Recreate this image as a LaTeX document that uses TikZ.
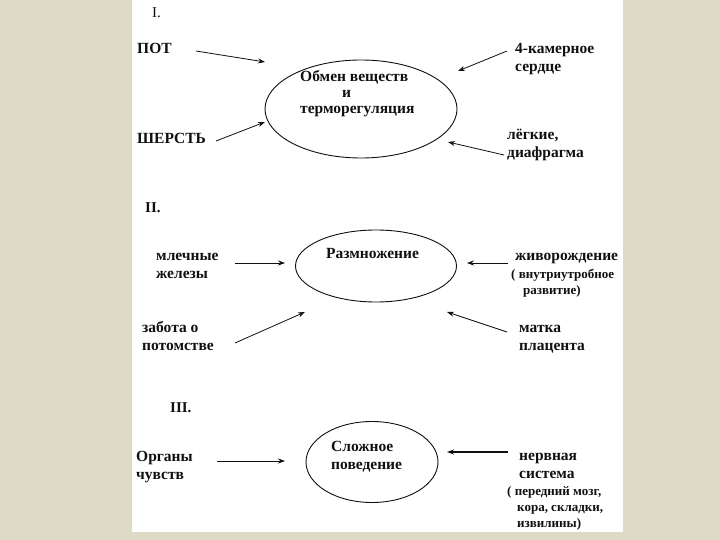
\documentclass[tikz,border=0pt]{standalone}
\usepackage{fontspec}
\setmainfont{Liberation Serif}
\usetikzlibrary{arrows.meta,shapes.geometric}
\definecolor{bioBack}{HTML}{DDDAC6}
\definecolor{bioInk}{HTML}{101010}
\tikzset{
  bio ring/.style={draw=bioInk, ellipse, line width=0.9pt, inner sep=0pt},
  bio label/.style={font=\fontsize{15.5}{18}\selectfont\bfseries, text=bioInk, align=left, anchor=north west, inner sep=0pt},
  bio note/.style={font=\fontsize{13}{16}\selectfont\bfseries, text=bioInk, align=left, anchor=north west, inner sep=0pt},
  bio numeral/.style={font=\fontsize{15}{18}\selectfont, text=bioInk, anchor=north west, inner sep=0pt},
  bio arrow/.style={draw=bioInk, -{Stealth[length=7pt,width=5pt]}, line width=0.8pt},
}

\begin{document}
\begin{tikzpicture}[x=1pt,y=-1pt]
  \fill[bioBack] (0,0) rectangle (720,540);
  \fill[white] (132,0) rectangle (623,532);

  % I. metabolism
  \node[bio numeral] (numI) at (152,7) {I.};
  \node[bio ring, minimum width=192pt, minimum height=98pt] (metab) at (361,109) {};
  \node[bio label] (metabTop) at (300,70) {Обмен веществ};
  \node[bio label] (metabAnd) at (342,90) {и};
  \node[bio label] (metabLow) at (300,106) {терморегуляция};
  \node[bio label] (pot) at (137,43) {ПОТ};
  \node[bio label] (sherst) at (137,133) {ШЕРСТЬ};
  \node[bio label] (heart) at (515,43) {4-камерное\\сердце};
  \node[bio label] (lungs) at (507,129) {лёгкие,\\диафрагма};
  \coordinate (potTail) at (196,51);    \coordinate (potHead) at (265,62);
  \coordinate (sherstTail) at (216,141); \coordinate (sherstHead) at (265,122);
  \coordinate (heartTail) at (507,51);  \coordinate (heartHead) at (458,71);
  \coordinate (lungsTail) at (504,155); \coordinate (lungsHead) at (448,142);
  \draw[bio arrow] (potTail) -- (potHead);
  \draw[bio arrow] (sherstTail) -- (sherstHead);
  \draw[bio arrow] (heartTail) -- (heartHead);
  \draw[bio arrow] (lungsTail) -- (lungsHead);

  % II. reproduction
  \node[bio numeral, font=\fontsize{15}{18}\selectfont\bfseries] (numII) at (145,202) {II.};
  \node[bio ring, minimum width=161pt, minimum height=72pt] (repro) at (376,266) {};
  \node[bio label] (reproText) at (326,248) {Размножение};
  \node[bio label] (milk) at (156,253) {млечные\\железы};
  \node[bio label] (birth) at (515,253) {живорождение};
  \node[bio note] (birthNote) at (511,269) {( внутриутробное\\\hspace{12pt}развитие)};
  \node[bio label] (care) at (142,321) {забота о\\потомстве};
  \node[bio label] (womb) at (519,325) {матка\\плацента};
  \coordinate (milkTail) at (235,263);  \coordinate (milkHead) at (285,263);
  \coordinate (birthTail) at (508,263); \coordinate (birthHead) at (467,263);
  \coordinate (careTail) at (235,343);  \coordinate (careHead) at (305,312);
  \coordinate (wombTail) at (507,332);  \coordinate (wombHead) at (447,312);
  \draw[bio arrow] (milkTail) -- (milkHead);
  \draw[bio arrow] (birthTail) -- (birthHead);
  \draw[bio arrow] (careTail) -- (careHead);
  \draw[bio arrow] (wombTail) -- (wombHead);

  % III. behaviour
  \node[bio numeral, font=\fontsize{15}{18}\selectfont\bfseries] (numIII) at (170,402) {III.};
  \node[bio ring, minimum width=132pt, minimum height=81pt] (behave) at (372,462) {};
  \node[bio label] (behaveText) at (331,441) {Сложное\\поведение};
  \node[bio label] (senses) at (136,451) {Органы\\чувств};
  \node[bio label] (nerves) at (519,453) {нервная\\система};
  \node[bio note] (nervesNote) at (507,486) {( передний мозг,\\\hspace{10pt}кора, складки,\\\hspace{10pt}извилины)};
  \coordinate (sensesTail) at (217,461);  \coordinate (sensesHead) at (285,461);
  \coordinate (nervesTail) at (508,452);  \coordinate (nervesHead) at (447,452);
  \draw[bio arrow] (sensesTail) -- (sensesHead);
  \draw[bio arrow, line width=1.6pt] (nervesTail) -- (nervesHead);
\end{tikzpicture}
\end{document}
